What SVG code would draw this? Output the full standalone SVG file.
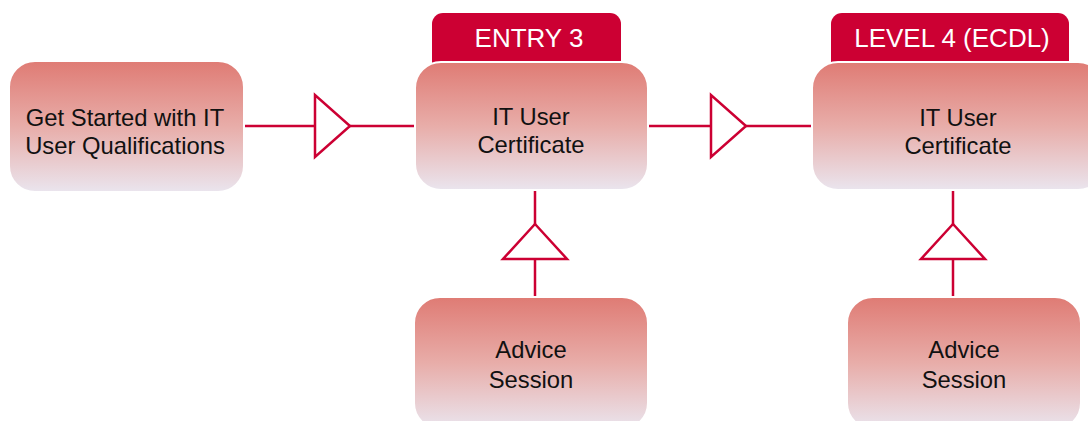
<svg xmlns="http://www.w3.org/2000/svg" width="1088" height="421" viewBox="0 0 1088 421">
<defs>
<linearGradient id="g" x1="0" y1="0" x2="0" y2="1">
<stop offset="0" stop-color="#DF7B74"/>
<stop offset="0.5" stop-color="#E8ADA9"/>
<stop offset="1" stop-color="#EAE5EE"/>
</linearGradient>
<style>
.box{fill:url(#g);stroke:#ffffff;stroke-width:2}
.tab{fill:#CC0033}
.t{font-family:"Liberation Sans",Arial,sans-serif;font-size:23.8px;fill:#111;text-anchor:middle}
.tt{font-family:"Liberation Sans",Arial,sans-serif;font-size:26px;fill:#fff;text-anchor:middle}
.c{stroke:#CC0033;stroke-width:2.5;fill:none}
.tri{stroke:#CC0033;stroke-width:2.5;fill:#fff;stroke-linejoin:miter}
</style>
</defs>
<rect width="1088" height="421" fill="#fff"/>
<g id="connectors">
<line class="c" x1="244" y1="126" x2="414" y2="126"/>
<polygon class="tri" points="315,95 315,157 350,126"/>
<line class="c" x1="648" y1="126" x2="811" y2="126"/>
<polygon class="tri" points="711,95 711,157 746,126"/>
<line class="c" x1="535" y1="190" x2="535" y2="297"/>
<polygon class="tri" points="535,224 503,259 567,259"/>
<line class="c" x1="953" y1="190" x2="953" y2="297"/>
<polygon class="tri" points="953,224 921,259 985,259"/>
</g>
<g id="node-get-started">
<rect class="box" x="9" y="61" width="235" height="131" rx="26"/>
<text class="t" x="125" y="126">Get Started with IT</text>
<text class="t" x="125" y="154">User Qualifications</text>
</g>
<g id="node-entry3">
<rect class="tab" x="432" y="13" width="189" height="60" rx="11"/>
<text class="tt" x="529" y="47">ENTRY 3</text>
<rect class="box" x="415" y="62" width="233" height="128" rx="26"/>
<text class="t" x="531" y="125">IT User</text>
<text class="t" x="531" y="153">Certificate</text>
</g>
<g id="node-level4">
<rect class="tab" x="831" y="13" width="238" height="60" rx="11"/>
<text class="tt" x="952" y="47">LEVEL 4 (ECDL)</text>
<rect class="box" x="812" y="62" width="292" height="128" rx="26"/>
<text class="t" x="958" y="126">IT User</text>
<text class="t" x="958" y="154">Certificate</text>
</g>
<g id="node-advice1">
<rect class="box" x="414" y="297" width="234" height="132" rx="26"/>
<text class="t" x="531" y="358">Advice</text>
<text class="t" x="531" y="388">Session</text>
</g>
<g id="node-advice2">
<rect class="box" x="847" y="297" width="234" height="132" rx="26"/>
<text class="t" x="964" y="358">Advice</text>
<text class="t" x="964" y="388">Session</text>
</g>
</svg>
